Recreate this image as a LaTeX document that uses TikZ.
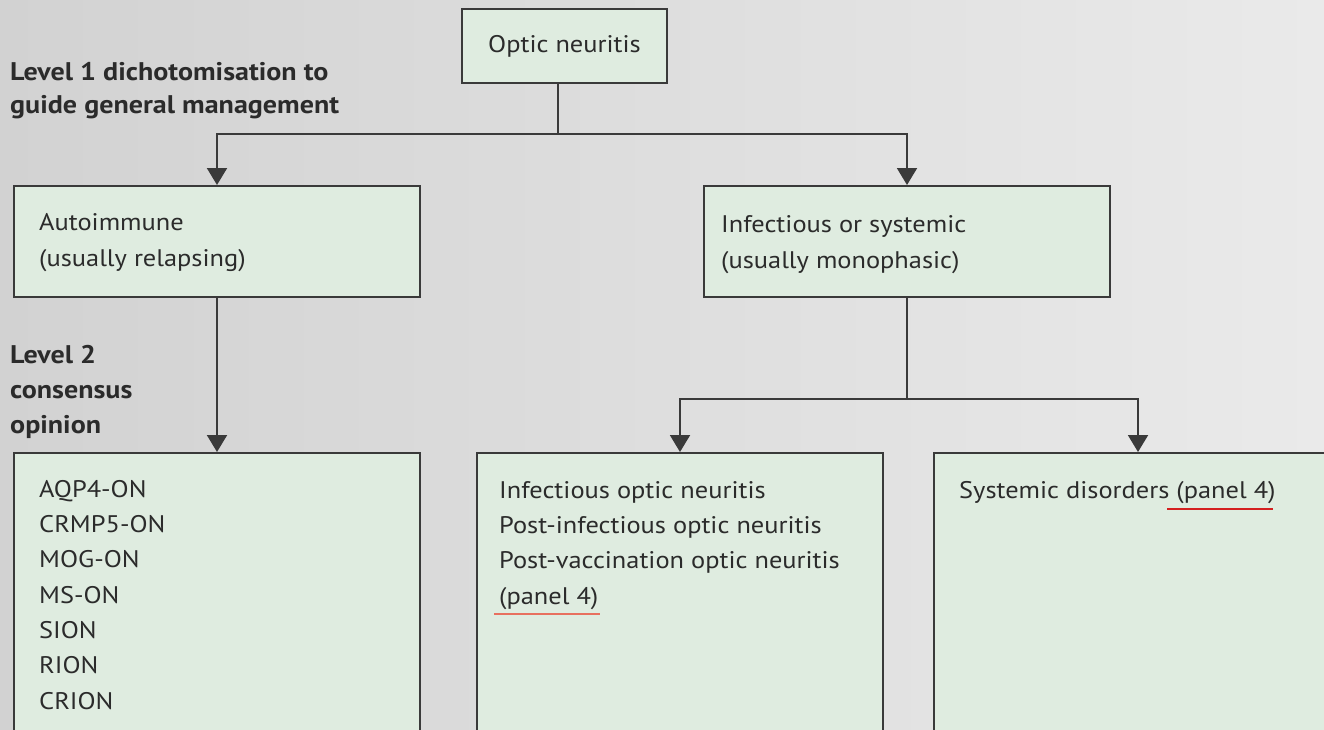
\documentclass[tikz,border=0pt]{standalone}
\usepackage{fontspec}
\setmainfont{PT Sans}[FakeStretch=1.1]
\usetikzlibrary{arrows.meta,calc}
\definecolor{boxfill}{HTML}{DFECE0}
\definecolor{boxline}{HTML}{3A3A3A}
\definecolor{txt}{HTML}{2B2B2B}
\definecolor{bgdark}{HTML}{D2D2D2}
\definecolor{bglight}{HTML}{EAEAEA}
\definecolor{ulsalmon}{HTML}{E8705F}
\definecolor{ulred}{HTML}{D42020}
\tikzset{
  box/.style={draw=boxline, fill=boxfill, line width=2pt, anchor=north west, inner sep=0pt},
  conn/.style={draw=boxline, line width=2pt},
  arr/.style={conn, -{Triangle[width=20pt,length=17pt]}},
  body/.style={text=txt, font=\fontsize{24}{35.3}\selectfont, inner sep=0pt, align=left, anchor=base west},
  lvl/.style={text=txt, font=\fontsize{25.5}{33}\selectfont\bfseries, inner sep=0pt, align=left, anchor=base west},
  lvltwo/.style={lvl, font=\fontsize{25.5}{35}\selectfont\bfseries},
}
\begin{document}
\begin{tikzpicture}[x=1pt,y=-1pt]
\useasboundingbox (0,0) rectangle (1324,729);
\clip (0,0) rectangle (1324,729);
\shade[left color=bgdark, right color=bglight] (0,0) rectangle (1324,729);
% boxes
\node[box, minimum width=205pt, minimum height=74pt, text=txt, font=\fontsize{24}{30}\selectfont] (optic) at (461,8) {Optic neuritis};
\node[box, minimum width=406pt, minimum height=111pt] (auto) at (13,185) {};
\node[box, minimum width=406pt, minimum height=111pt] (infsys) at (703,185) {};
\node[box, minimum width=406pt, minimum height=320pt] (aqp) at (13,452) {};
\node[box, minimum width=406pt, minimum height=320pt] (infon) at (476,452) {};
\node[box, minimum width=408pt, minimum height=320pt] (sysd) at (933,452) {};
% connectors
\coordinate (j1) at (558,134);
\coordinate (j2) at (infsys.south |- 0,399);
\draw[conn] (j1 |- optic.south) -- (j1);
\draw[arr] (j1) -| (auto.north);
\draw[arr] (j1) -| (infsys.north);
\draw[arr] (auto.south) -- (aqp.north);
\draw[conn] (infsys.south) -- (j2);
\draw[arr] (j2) -| (infon.north);
\draw[arr] (j2) -| (sysd.north);
% level labels (anchored at the baseline of their last line)
\node[lvl] (lev1) at (10,113) {Level 1 dichotomisation to\\guide general management};
\node[lvltwo] (lev2) at (10,433) {Level 2\\consensus\\opinion};
% box texts
\node[body] (autot) at (39,266) {Autoimmune\\(usually relapsing)};
\node[body] (infsyst) at (721,268) {Infectious or systemic\\(usually monophasic)};
\node[body] (aqpt) at (39,709) {AQP4-ON\\CRMP5-ON\\MOG-ON\\MS-ON\\SION\\RION\\CRION};
\node[body] (infont) at (499,604) {Infectious optic neuritis\\Post-infectious optic neuritis\\Post-vaccination optic neuritis\\(panel 4)};
\node[body] (sysdt) at (959,498) {Systemic disorders (panel 4)};
% underlines
\coordinate (u1a) at (494,614);
\coordinate (u1b) at (600,614);
\coordinate (u2a) at (1167,509);
\coordinate (u2b) at (1273,509);
\draw[ulsalmon, line width=1.6pt] (u1a) -- (u1b);
\draw[ulred, line width=1.3pt] (u2a) -- (u2b);
\end{tikzpicture}
\end{document}
